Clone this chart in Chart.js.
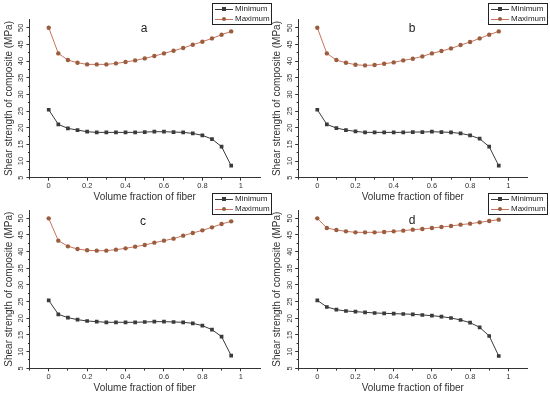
<!DOCTYPE html>
<html>
<head>
<meta charset="utf-8">
<script src="https://cdn.jsdelivr.net/npm/chart.js@4.4.0/dist/chart.umd.min.js"></script>
<style>
  body { margin: 0; background: #fff; width: 550px; height: 400px; overflow: hidden; position: relative;
         font-family: "Liberation Sans", Arial, sans-serif; }
  canvas { position: absolute; }
  .tag { position: absolute; font-size: 12px; color: #222; transform: translate(-50%, -50%); }
  .legend { position: absolute; width: 58px; height: 20px; border: 1px solid #222; background: #fff;
            font-size: 8px; color: #222; }
  .row { position: absolute; left: 0; width: 100%; height: 10px; }
  .row .ln { position: absolute; left: 2px; top: 4.5px; width: 18px; height: 1px; }
  .row .mk { position: absolute; left: 9px; top: 3px; width: 4px; height: 4px; }
  .row span { position: absolute; left: 22px; top: 0; line-height: 10px; }
</style>
</head>
<body>
<canvas id="pa" width="275" height="206" style="left:0;top:0"></canvas>
<canvas id="pb" width="282" height="206" style="left:268px;top:0"></canvas>
<canvas id="pc" width="275" height="210" style="left:0;top:190px"></canvas>
<canvas id="pd" width="282" height="210" style="left:268px;top:190px"></canvas>

<div class="tag" style="left:144px;top:28px">a</div>
<div class="tag" style="left:412px;top:28px">b</div>
<div class="tag" style="left:143px;top:221px">c</div>
<div class="tag" style="left:412px;top:220px">d</div>

<div id="legends"></div>

<script>
"use strict";

// volume fraction of fiber (x)
const FRACTION = [0, 0.05, 0.1, 0.15, 0.2, 0.25, 0.3, 0.35, 0.4, 0.45,
                  0.5, 0.55, 0.6, 0.65, 0.7, 0.75, 0.8, 0.85, 0.9, 0.95];

// shear strength of composite (MPa)
const MIN_A = [25.4, 21.0, 19.8, 19.3, 18.8, 18.6, 18.6, 18.6, 18.6, 18.6,
               18.7, 18.8, 18.8, 18.7, 18.6, 18.3, 17.7, 16.6, 14.3, 8.6];
const MAX_A = [50.0, 42.3, 40.3, 39.5, 39.0, 39.0, 39.0, 39.3, 39.7, 40.2,
               40.8, 41.5, 42.3, 43.1, 43.9, 44.9, 45.8, 46.8, 47.9, 48.9];
const MIN_B = [25.4, 21.0, 19.9, 19.3, 18.9, 18.6, 18.6, 18.6, 18.6, 18.6,
               18.7, 18.7, 18.8, 18.7, 18.6, 18.3, 17.7, 16.7, 14.3, 8.6];
const MAX_B = [50.0, 42.3, 40.3, 39.5, 38.9, 38.7, 38.8, 39.2, 39.6, 40.2,
               40.7, 41.4, 42.3, 43.0, 43.8, 44.8, 45.7, 46.8, 47.9, 48.9];
const MIN_C = [25.4, 21.2, 20.2, 19.6, 19.2, 19.0, 18.8, 18.8, 18.8, 18.8,
               18.9, 19.0, 19.0, 18.9, 18.8, 18.5, 17.8, 16.6, 14.5, 8.8];
const MAX_C = [50.0, 43.3, 41.6, 40.8, 40.4, 40.3, 40.3, 40.6, 41.0, 41.5,
               42.0, 42.7, 43.3, 43.9, 44.8, 45.6, 46.4, 47.3, 48.3, 49.1];
const MIN_D = [25.4, 23.4, 22.6, 22.2, 22.0, 21.8, 21.6, 21.5, 21.4, 21.3,
               21.2, 21.0, 20.8, 20.5, 20.1, 19.5, 18.7, 17.3, 14.7, 8.7];
const MAX_D = [50.0, 47.1, 46.5, 46.1, 45.8, 45.8, 45.8, 45.9, 46.1, 46.3,
               46.6, 46.8, 47.1, 47.4, 47.7, 48.1, 48.4, 48.8, 49.2, 49.6];

const SERIES_NAMES = ["Minimum", "Maximum"];
const X_TITLE = "Volume fraction of fiber";
const Y_TITLE = "Shear strength of composite (MPa)";

const MIN_COLOR = "#3a3a3a";
const MAX_LINE = "#c8735f";
const MAX_MARK = "#9a5d3e";
const AXIS_COLOR = "#333";
const FONT = "'Liberation Sans', Arial, sans-serif";

function points(vals) {
  return FRACTION.map((x, i) => ({ x, y: vals[i] }));
}

// short minor ticks through a dash pattern (bottom axis draws outward, left axis inward)
function xTickDash(ctx) {
  const k = Math.round(ctx.tick.value * 10);
  return k % 2 ? [1.6, 100] : [];
}
function yTickDash(ctx) {
  const k = Math.round(ctx.tick.value * 2);
  return k % 10 ? [0, 1.4, 1.6, 100] : [];
}

function drawPanel(id, minVals, maxVals, pad) {
  new Chart(document.getElementById(id), {
    type: "line",
    data: {
      datasets: [{
        label: SERIES_NAMES[0],
        data: points(minVals),
        borderColor: MIN_COLOR,
        backgroundColor: MIN_COLOR,
        borderWidth: 1,
        pointStyle: "rect",
        pointRadius: 2.6,
        pointBorderWidth: 0,
      }, {
        label: SERIES_NAMES[1],
        data: points(maxVals),
        borderColor: MAX_LINE,
        backgroundColor: MAX_MARK,
        pointBackgroundColor: MAX_MARK,
        pointBorderColor: MAX_MARK,
        borderWidth: 1,
        pointStyle: "circle",
        pointRadius: 2.2,
        pointBorderWidth: 0,
      }],
    },
    options: {
      responsive: false,
      animation: false,
      layout: { padding: pad },
      plugins: { legend: { display: false }, tooltip: { enabled: false } },
      scales: {
        x: {
          type: "linear", min: -0.1, max: 1.1,
          afterFit(s) { s.height = 26; },
          ticks: {
            stepSize: 0.1, autoSkip: false, maxRotation: 0, padding: 1,
            color: AXIS_COLOR, font: { family: FONT, size: 7.5 },
            callback(v) {
              const k = Math.round(v * 10);
              if (k < 0 || k > 10 || k % 2) return "";
              return String(k / 10);
            },
          },
          grid: {
            drawOnChartArea: false, tickLength: 3,
            tickColor: c => (Math.abs(c.tick.value - 1.1) < 1e-6 ? "rgba(0,0,0,0)" : AXIS_COLOR),
            tickBorderDash: xTickDash,
          },
          border: { color: AXIS_COLOR, width: 1 },
          title: { display: true, text: X_TITLE, color: AXIS_COLOR,
                   font: { family: FONT, size: 10 }, padding: { top: 0, bottom: 0 } },
        },
        y: {
          min: 5, max: 52.5,
          afterFit(s) { s.width = 29.5; },
          ticks: {
            stepSize: 2.5, autoSkip: false, minRotation: 90, maxRotation: 90,
            crossAlign: "center", padding: 1,
            color: AXIS_COLOR, font: { family: FONT, size: 7.5 },
            callback(v) {
              const k = Math.round(v * 2);
              if (k % 10 || v > 50.1) return "";
              return String(Math.round(v));
            },
          },
          grid: {
            drawOnChartArea: false, tickLength: 3,
            tickColor: c => (c.tick.value > 52 ? "rgba(0,0,0,0)" : AXIS_COLOR),
            tickBorderDash: yTickDash,
          },
          border: { color: AXIS_COLOR, width: 1 },
          title: { display: true, text: Y_TITLE, color: AXIS_COLOR,
                   font: { family: FONT, size: 10 }, padding: { top: 3, bottom: 0 } },
        },
      },
    },
  });
}

function addLegend(left, top) {
  const box = document.createElement("div");
  box.className = "legend";
  box.style.left = left + "px";
  box.style.top = top + "px";
  const styles = [
    { line: MIN_COLOR, mark: MIN_COLOR, radius: "0" },
    { line: MAX_LINE, mark: MAX_MARK, radius: "50%" },
  ];
  SERIES_NAMES.forEach((name, i) => {
    const row = document.createElement("div");
    row.className = "row";
    row.style.top = (i * 10) + "px";
    row.innerHTML = `<div class="ln" style="background:${styles[i].line}"></div>` +
      `<div class="mk" style="background:${styles[i].mark};border-radius:${styles[i].radius}"></div>` +
      `<span>${name}</span>`;
    box.appendChild(row);
  });
  document.getElementById("legends").appendChild(box);
}

drawPanel("pa", MIN_A, MAX_A, { left: 0, top: 19.4, right: 15, bottom: 2.3 });
drawPanel("pb", MIN_B, MAX_B, { left: 0.7, top: 19.4, right: 22.6, bottom: 2.3 });
drawPanel("pc", MIN_C, MAX_C, { left: 0, top: 20, right: 15, bottom: 5.7 });
drawPanel("pd", MIN_D, MAX_D, { left: 0.7, top: 20, right: 22.6, bottom: 5.7 });

addLegend(212, 3);
addLegend(488, 3);
addLegend(212, 193);
addLegend(488, 193);
</script>
</body>
</html>
